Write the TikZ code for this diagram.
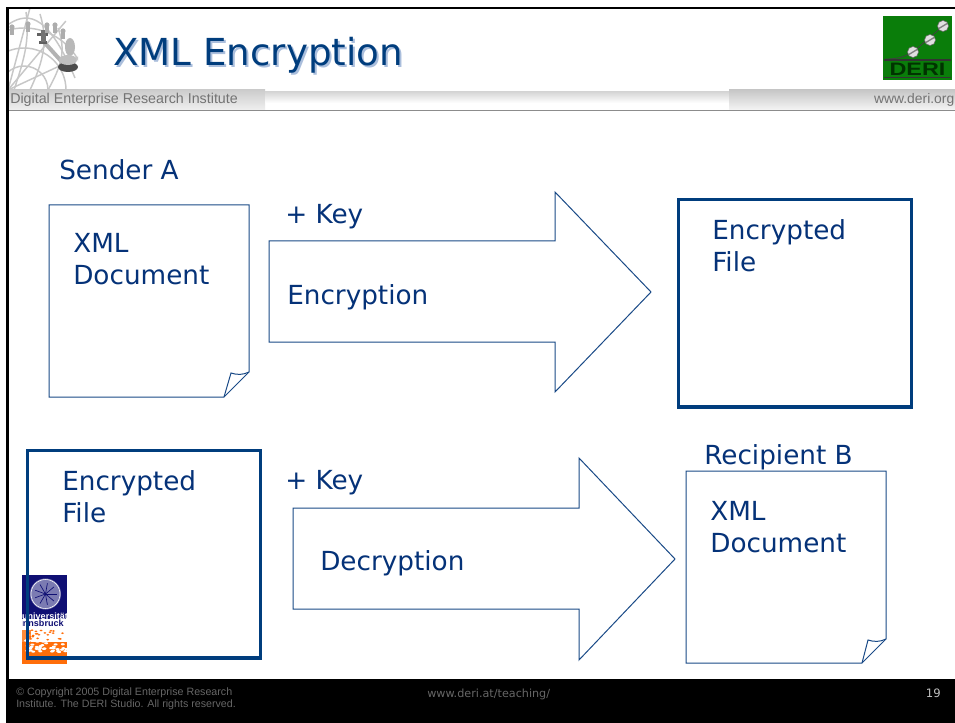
\documentclass[tikz,border=0pt]{standalone}
\usepackage{fontspec}
\setmainfont{DejaVu Sans}
\newfontfamily\arialfont{Liberation Sans}
\usetikzlibrary{shadings,calc}
\definecolor{deriblue}{RGB}{0,61,125}
\definecolor{linkblue}{RGB}{26,74,135}
\definecolor{textblue}{RGB}{5,50,120}
\definecolor{shadowblue}{RGB}{170,190,220}
\definecolor{derigreen}{RGB}{10,125,10}
\definecolor{uninavy}{RGB}{15,15,115}
\definecolor{uniorange}{RGB}{255,110,10}
\tikzset{
  lbl/.style={inner sep=0pt,anchor=base west,text=textblue,font=\fontsize{19.7pt}{23pt}\selectfont},
  titletext/.style={inner sep=0pt,anchor=base west,font=\fontsize{27.9pt}{32pt}\selectfont},
  thinshape/.style={draw=linkblue,line width=0.75pt,fill=white,line join=miter},
  thickbox/.style={draw=deriblue,line width=2.9pt},
  footer/.style={inner sep=0pt,anchor=base west,text=black!60!white,font=\arialfont\fontsize{8pt}{9pt}\selectfont},
  bandtext/.style={inner sep=0pt,text=black!55,font=\arialfont\fontsize{10.7pt}{12pt}\selectfont},
  globeline/.style={draw=black!22,line width=1.1pt},
  piece/.style={fill=black!32},
  screw/.style={fill=white!88!black,draw=black!60,line width=0.4pt}
}
\begin{document}
\begin{tikzpicture}[x=0.75pt,y=-0.75pt]
\useasboundingbox (0,0) rectangle (955,723);
\fill[white] (0,0) rectangle (955,723);
% header band
\shade[top color=black!20,bottom color=black!6] (9,90) rectangle (265,110);
\shade[top color=black!16,bottom color=white] (265,92) rectangle (729,103);
\shade[top color=black!22,bottom color=black!4] (729,90) rectangle (955,110);
\draw[black!45,line width=0.75pt] (9,110.5) -- (955,110.5);
% globe emblem
\begin{scope}
\clip (9,10) rectangle (78,90);
\foreach \r in {24,42,62}{\draw[globeline] (24,90) ++(-\r,0) arc (180:360:\r);}
\draw[globeline] (9,24) .. controls (30,10) and (50,18) .. (75,78);
\foreach \a in {-10,15,40,65}{\draw[globeline] (8,90) -- ++({-\a-10}:90);}
\draw[globeline] (14,90) .. controls (24,60) and (30,40) .. (26,12);
\draw[globeline] (30,90) .. controls (44,60) and (48,40) .. (40,14);
\draw[globeline] (48,90) .. controls (62,65) and (66,50) .. (58,28);
\draw[black!30,line width=3pt,line cap=round] (44,42) -- (62,62);
\fill[black!62] (37,33) rectangle (48,36);
\fill[black!62] (39,41) rectangle (47,44);
\fill[black!55] (41,30) rectangle (46,42);
\fill[black!28] (70,47) ellipse (5 and 9);
\fill[black!70] (68,67) ellipse (10 and 5);
\fill[black!25] (68,60) ellipse (9 and 5);
\foreach \x/\y in {12/27,28/24,47/25,55/25,63/31}{\fill[piece] (\x,\y) circle (2.6);\fill[piece] (\x-2,\y) rectangle (\x+2,\y+8);}
\end{scope}
% frame
\fill[black] (6,7) rectangle (955,9.5);
\fill[black] (6,7) rectangle (9,723);
\fill[black] (6,679) rectangle (955,723);
% title
\node[titletext,text=shadowblue] (titleshadow) at (115,68) {XML Encryption};
\node[titletext,text=deriblue] (title) at (113,66) {XML Encryption};
\node[bandtext,anchor=base west] (inst) at (10,104) {Digital Enterprise Research Institute};
\node[bandtext,anchor=base east,font=\arialfont\fontsize{10.4pt}{12pt}\selectfont] (web) at (954.5,104) {www.deri.org};
% DERI logo
\fill[derigreen] (883,16) rectangle (952,80);
\draw[black!75,line width=0.6pt] (885,59) .. controls (900,59) and (905,56) .. (913,52) -- (943,26);
\draw[black!80,line width=1pt] (884,60) -- (951,60) (884,77.5) -- (951,77.5);
\foreach \p/\q in {913/52,930/40,943/26}{\fill[screw] (\p,\q) circle (5.5);\draw[black!50,line width=1pt] (\p-4,\q+2.4) -- (\p+4,\q-2.4);}
\node[inner sep=0pt,anchor=base,text=black!80!green,xscale=1.3,font=\arialfont\bfseries\fontsize{13.5pt}{14pt}\selectfont] (derilogo) at (917.5,75.5) {DERI};
% sender
\node[lbl] (sendera) at (59,180) {Sender A};
% paper 1
\draw[thinshape] (49,205) -- (249,205) -- (249,372) -- (224,397) -- (49,397) -- cycle;
\draw[thinshape,fill=none] (224,397) -- (231,373) .. controls (237,375) and (243,375) .. (249,372);
\node[lbl] (xml1a) at (73,253) {XML};
\node[lbl] (xml1b) at (73,285) {Document};
% arrow 1
\draw[thinshape] (269,241) -- (555,241) -- (555,192) -- (651,292) -- (555,392) -- (555,342) -- (269,342) -- cycle;
\node[lbl] (key1) at (285,224) {+ Key};
\node[lbl] (enc) at (287,304) {Encryption};
% box 1
\draw[thickbox] (678.5,199.5) rectangle (911.5,407);
\node[lbl] (ef1a) at (712,240) {Encrypted};
\node[lbl] (ef1b) at (712,272) {File};
% uni logo
\begin{scope}
\clip (22,575) rectangle (67,664);
\fill[uninavy] (22,575) rectangle (67,619);
\fill[uniorange] (22,642) rectangle (67,664);
\fill[uniorange!80!white] (22,630) rectangle (31,642);
\pgfmathsetseed{7}
\foreach \i in {1,...,50}{\pgfmathsetmacro{\px}{26+41*rnd}\pgfmathsetmacro{\py}{638+14*rnd}\fill[white] (\px,\py) ellipse (2 and 1.1);}
\foreach \i in {1,...,22}{\pgfmathsetmacro{\px}{28+39*rnd}\pgfmathsetmacro{\py}{630+10*rnd}\fill[uniorange] (\px,\py) ellipse (1.5 and 0.9);}
\node[inner sep=0pt,anchor=base,text=white,font=\arialfont\bfseries\fontsize{6.8pt}{7pt}\selectfont] (uni1) at (45,619) {universität};
\node[inner sep=0pt,anchor=base,text=uninavy,font=\arialfont\bfseries\fontsize{6.8pt}{7pt}\selectfont] (uni2) at (42,626.5) {innsbruck};
\end{scope}
\fill[uninavy!55!white] (45.5,594) circle (15.5);
\draw[white,line width=0.4pt] (45.5,594) circle (14.5);
\foreach \a in {0,40,...,320}{\draw[uninavy,line width=0.5pt] (45.5,594) -- ++(\a:11);}
% box 2
\draw[thickbox] (27.5,450.5) rectangle (260.5,658);
\node[lbl] (ef2a) at (62,490) {Encrypted};
\node[lbl] (ef2b) at (62,522) {File};
% arrow 2
\draw[thinshape] (293,508) -- (579,508) -- (579,458) -- (675,559) -- (579,660) -- (579,609) -- (293,609) -- cycle;
\node[lbl] (key2) at (285,489) {+ Key};
\node[lbl] (dec) at (320,570) {Decryption};
% paper 2
\node[lbl] (recb) at (704,464) {Recipient B};
\draw[thinshape] (686,471) -- (886,471) -- (886,639) -- (862,663) -- (686,663) -- cycle;
\draw[thinshape,fill=none] (862,663) -- (868,640) .. controls (874,642) and (880,642) .. (886,639);
\node[lbl] (xml2a) at (710,520) {XML};
\node[lbl] (xml2b) at (710,552) {Document};
% footer
\node[footer] (copy1) at (16,695) {© Copyright 2005 Digital Enterprise Research};
\node[footer] (copy2) at (16,707) {Institute. The DERI Studio. All rights reserved.};
\node[inner sep=0pt,anchor=base west,text=black!60!white,font=\fontsize{8.4pt}{10pt}\selectfont] (teach) at (427,697) {www.deri.at/teaching/};
\node[inner sep=0pt,anchor=base east,text=white!75!black,font=\fontsize{8.7pt}{10pt}\selectfont] (page) at (941,697) {19};
\end{tikzpicture}
\end{document}
